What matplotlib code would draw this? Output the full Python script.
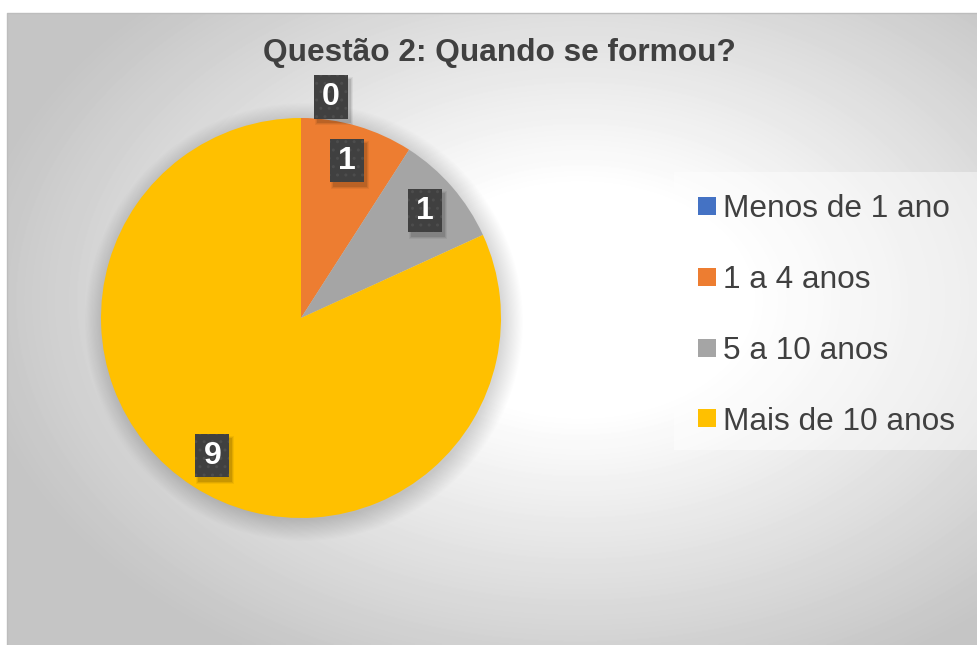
import numpy as np
import matplotlib
matplotlib.use("Agg")
import matplotlib.pyplot as plt
from matplotlib.lines import Line2D
from matplotlib.patches import Rectangle, Circle
from matplotlib.transforms import offset_copy

plt.rcParams['font.family'] = ['Liberation Sans', 'DejaVu Sans']
plt.rcParams['hatch.color'] = '#4d4d4d'
plt.rcParams['hatch.linewidth'] = 1.0

# dados
titulo = "Questão 2: Quando se formou?"
categorias = ["Menos de 1 ano", "1 a 4 anos", "5 a 10 anos", "Mais de 10 anos"]
valores = [0, 1, 1, 9]
cores = ["#4472C4", "#ED7D31", "#A5A5A5", "#FFC000"]

W, H = 978, 645
fig = plt.figure(figsize=(W / 100, H / 100), dpi=100)
fig.patch.set_facecolor("white")

# fundo com gradiente radial (branco no centro, cinza nas bordas)
bg = fig.add_axes([0, 0, 1, 1], zorder=0)
bg.set_xlim(0, W)
bg.set_ylim(H, 0)
bg.axis("off")
xx, yy = np.meshgrid(np.arange(7, W), np.arange(13, H))
d = np.sqrt(((xx - 580) / 560.0) ** 2 + ((yy - 300) / 380.0) ** 2)
v = np.clip((d - 0.3) / 0.8, 0, 1)
grad = 1 - 0.23 * v
bg.imshow(grad, cmap="gray", vmin=0, vmax=1, extent=(7, W, H, 13),
          aspect="auto", interpolation="bilinear")
bg.plot([7, 7, W], [H, 13, 13], color="#bdbdbd", lw=1)
bg.add_patch(Rectangle((674, 172), W - 674, 278, facecolor="white",
                       alpha=0.45, edgecolor="none"))

fig.text(499 / W, 1 - 53 / H, titulo, ha="center", va="center",
         fontsize=22.8, fontweight="bold", color="#404040")

# pizza
ax = fig.add_axes([101 / W, 1 - 518 / H, 400 / W, 400 / H], zorder=2)

# sombra difusa da pizza
for k in range(20):
    ax.add_patch(Circle((0.015, -0.02), 0.99 + 0.0055 * k, facecolor="black",
                        alpha=0.008, edgecolor="none", clip_on=False, zorder=0))

wedges, _ = ax.pie(valores, colors=cores, startangle=90, counterclock=False,
                   radius=1, wedgeprops=dict(linewidth=0))
for w in wedges:
    w.set_zorder(1)
ax.set_xlim(-1, 1)
ax.set_ylim(-1, 1)
ax.axis("off")

# rotulos de dados
total = float(sum(valores))
ang = 90 - 360 * (np.cumsum(valores) - np.array(valores) / 2.0) / total
lx, ly = [], []
for a, val in zip(ang, valores):
    t = np.deg2rad(a)
    if val == 0:
        lx.append(1.105 * np.cos(t) + 0.15)
        ly.append(1.105 * np.sin(t))
    else:
        lx.append(0.82 * np.cos(t))
        ly.append(0.82 * np.sin(t))

caixa = [(-17, -21.5), (17, -21.5), (17, 21.5), (-17, 21.5), (-17, -21.5)]
sombra = offset_copy(ax.transData, fig=fig, x=3, y=-4, units="dots")
for k, a in enumerate([0.10, 0.07, 0.05]):
    ax.scatter(lx, ly, s=(31 + 2 * k) ** 2, marker=caixa, color="black",
               alpha=a, linewidths=0, transform=sombra, clip_on=False, zorder=3)
ax.scatter(lx, ly, s=31 ** 2, marker=caixa, facecolor="#404040",
           edgecolor="#4d4d4d", linewidths=0, hatch="..", clip_on=False, zorder=4)
for x, y, val in zip(lx, ly, valores):
    ax.text(x, y, str(val), ha="center", va="center", fontsize=23,
            fontweight="bold", color="white", zorder=5)

# legenda
handles = [Line2D([], [], marker="s", linestyle="none", markersize=12.3,
                  markerfacecolor=c, markeredgewidth=0) for c in cores]
leg = fig.legend(handles, categorias, loc="upper left",
                 bbox_to_anchor=(698 / W, 1 - 194 / H), frameon=False,
                 fontsize=22.8, labelspacing=1.29, handlelength=0.55,
                 handletextpad=0.25, borderpad=0, borderaxespad=0)
for t in leg.get_texts():
    t.set_color("#404040")

fig.savefig("out.png", dpi=100)
